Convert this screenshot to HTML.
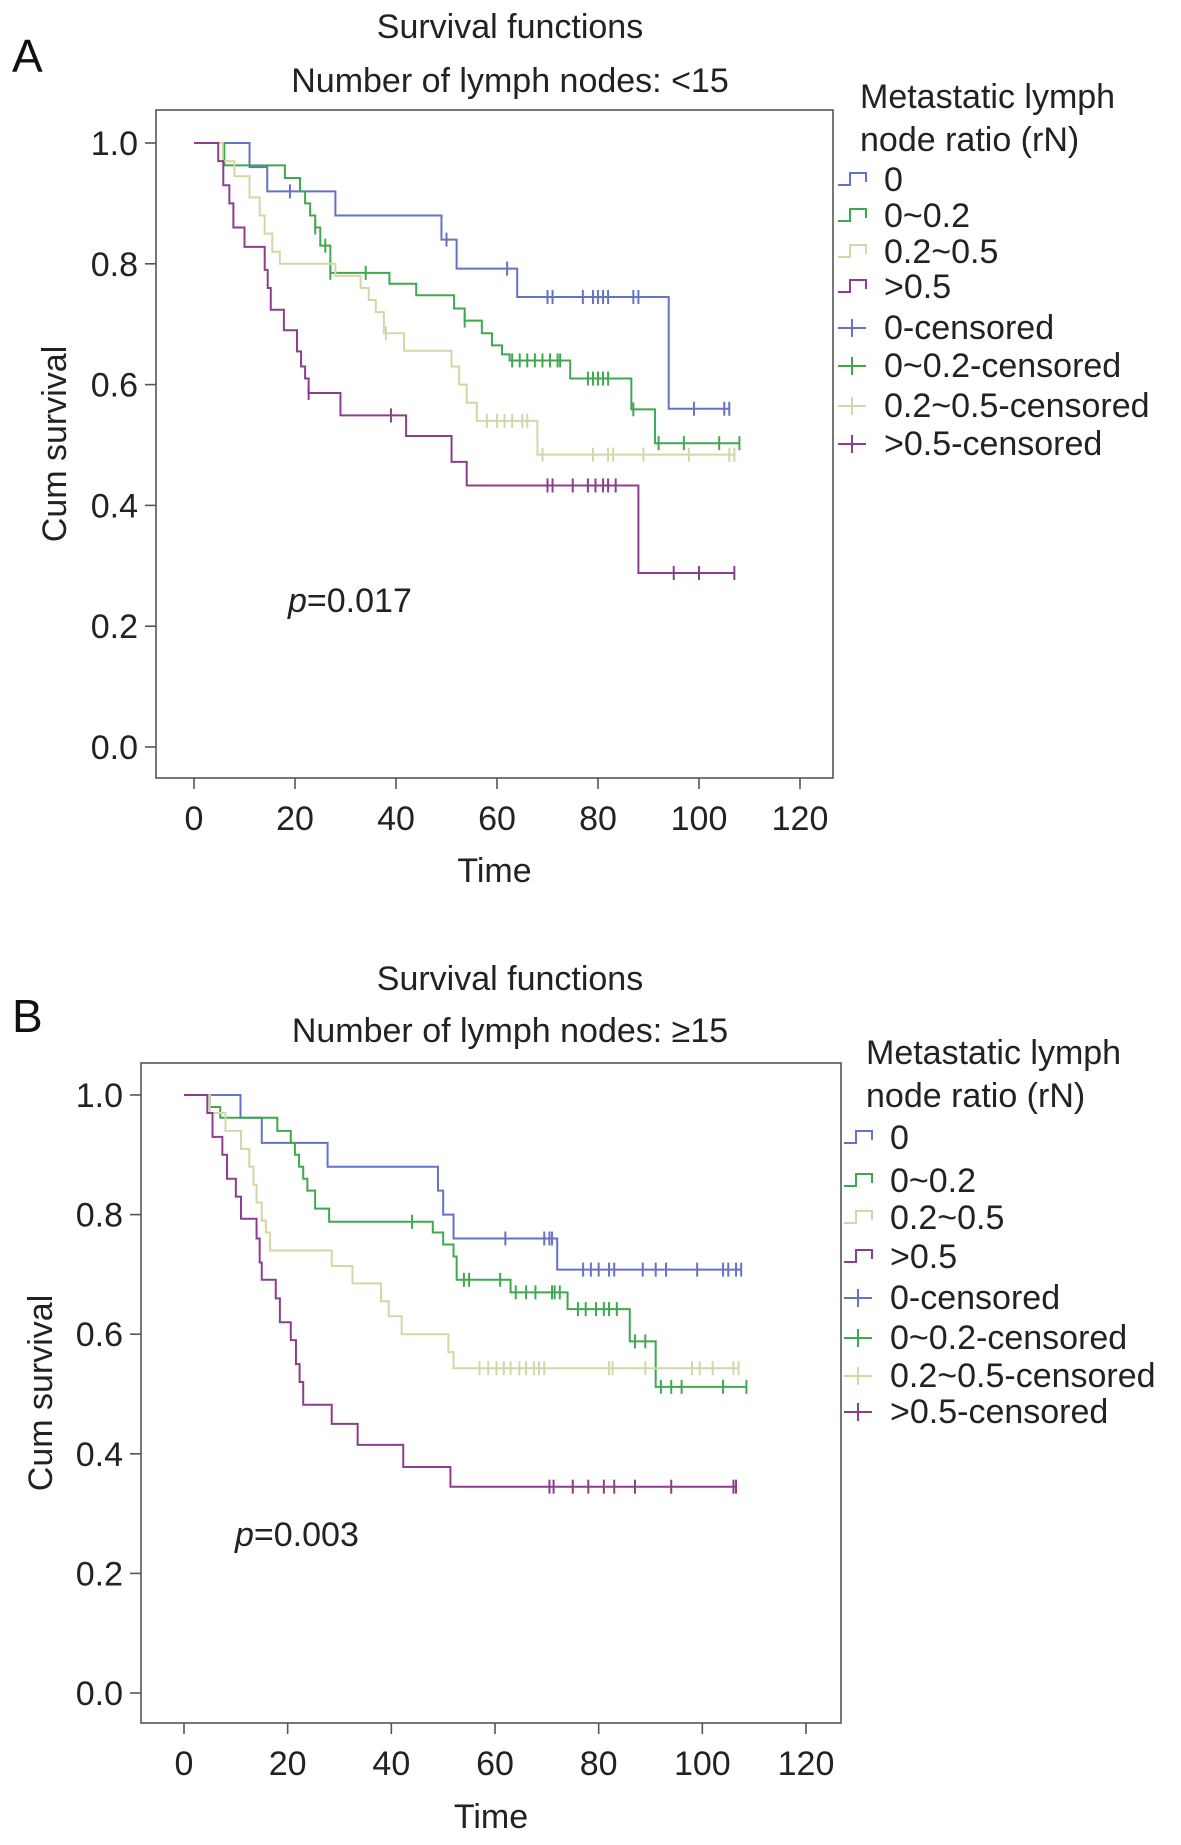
<!DOCTYPE html>
<html><head><meta charset="utf-8"><style>
html,body{margin:0;padding:0;background:#fff}
svg{display:block;font-family:"Liberation Sans",sans-serif}
</style></head><body>
<svg id="chart" width="1181" height="1845" viewBox="0 0 1181 1845" xmlns="http://www.w3.org/2000/svg"></svg>
<script>
// ---------- data ----------
const seriesNames = ["0","0~0.2","0.2~0.5",">0.5"];
const seriesColors = ["#6472c8","#3fa84e","#d4d6a6","#8c3d8e"];
const xTicks = [0,20,40,60,80,100,120];
const yTicks = [0,0.2,0.4,0.6,0.8,1.0];

// Panel A  (<15 lymph nodes)
const aBlueT = [11,14.5,28,49,52,64,94];
const aBlueS = [0.96,0.92,0.88,0.84,0.792,0.745,0.56];
const aBlueC = [19,50,62,70,71,77,79,80,81,82,87,88,99,105,106];
const aBlueEnd = 106;
const aGreenT = [6,18,21,22,23,24,25,27,38.7,44,51.5,53.6,57,59,61,62.5,74.5,86.6,91.3];
const aGreenS = [0.963,0.942,0.92,0.90,0.88,0.86,0.83,0.785,0.767,0.748,0.726,0.706,0.685,0.665,0.65,0.64,0.61,0.559,0.503];
const aGreenC = [24,26,27,34,53.6,63,64.5,66,67.5,69,70.5,72,72.5,78,79,80,81,82,87,92,97,104,108];
const aGreenEnd = 108;
const aBeigeT = [5.7,8,11,13,14,15.5,17,28,33,34.6,36,37.6,41.6,51,52.5,54,56,68];
const aBeigeS = [0.97,0.945,0.91,0.88,0.85,0.82,0.80,0.78,0.76,0.74,0.72,0.685,0.656,0.63,0.60,0.57,0.54,0.484];
const aBeigeC = [38,58,60,61.5,63,65,66,69,79,82,83,89,98,106,107];
const aBeigeEnd = 107;
const aPurpleT = [4.8,5.8,7,7.8,10,14,14.6,15.2,17.8,20.4,21.2,22,22.7,29,42,51,54,88];
const aPurpleS = [0.97,0.93,0.90,0.86,0.828,0.79,0.76,0.724,0.69,0.655,0.63,0.61,0.586,0.549,0.515,0.472,0.433,0.288];
const aPurpleC = [22.7,39,70,71,75,78,79.5,81,82,83.5,95,100,107];
const aPurpleEnd = 107;

// Panel B  (>=15 lymph nodes)
const bBlueT = [10.9,15,27.7,49,50,52,72];
const bBlueS = [0.962,0.92,0.88,0.84,0.80,0.76,0.708];
const bBlueC = [62,69.5,70.5,71,77,78.5,80,82,83,88.5,91,93,99,104,105,106.5,107.5];
const bBlueEnd = 107.5;
const bGreenT = [5,7,18,20.6,21.4,22.2,23,23.8,25.3,28,48,50,52,52.6,63,74,86,91];
const bGreenS = [0.98,0.962,0.94,0.92,0.90,0.88,0.86,0.84,0.81,0.788,0.77,0.75,0.73,0.691,0.67,0.642,0.588,0.512];
const bGreenC = [44,54,55,61,64,66,67.8,71,71.5,72.5,76,77.5,79.5,81,82,83.5,87,89,92,94,96,104,108.5];
const bGreenEnd = 108.5;
const bBeigeT = [5,8,11,12.6,13.4,14,15,15.8,16.6,28.5,32.5,38,39.5,42,51,52];
const bBeigeS = [0.97,0.94,0.91,0.88,0.85,0.82,0.79,0.77,0.74,0.714,0.685,0.655,0.63,0.60,0.57,0.543];
const bBeigeC = [57,58.7,60.3,61.7,63,64.7,66,67.5,68.5,69.5,82,82.7,89,98,99.5,102,106,107];
const bBeigeEnd = 107;
const bPurpleT = [4.5,5.5,7.4,8.3,10,11,14,14.6,15,17.7,18.5,20.6,21.6,22.3,23,28.5,33.5,42.3,51.4];
const bPurpleS = [0.97,0.93,0.90,0.86,0.83,0.793,0.76,0.72,0.691,0.66,0.62,0.59,0.55,0.52,0.482,0.45,0.415,0.378,0.345];
const bPurpleC = [70.5,71.3,75,78,81,83,87,94,106,106.5];
const bPurpleEnd = 106.5;

const FS = 34;
const NS = "http://www.w3.org/2000/svg";
const svg = document.getElementById("chart");
function mk(tag, attrs, parent, text){
  const e = document.createElementNS(NS, tag);
  for (const k in attrs) e.setAttribute(k, attrs[k]);
  if (text !== undefined) e.textContent = text;
  (parent || svg).appendChild(e);
  return e;
}
function survAt(T,S,t){ let s=1; for(let i=0;i<T.length;i++){ if(T[i]<=t) s=S[i]; } return s; }

function drawPanel(P, data){
  const g = mk("g", {}, svg);
  
  
  const xs = t => P.x0 + (t/120)*(P.x120 - P.x0);
  const ys = v => P.y0 + v*(P.y1 - P.y0);

  const lab = mk("text", {x:12, y:P.letterY, "font-size":46, fill:"#111"}, g, P.id.toUpperCase());
  
  
  const t1 = mk("text", {x:P.titleX, y:P.titleY, "font-size":FS, fill:"#222","text-anchor":"middle"}, g, "Survival functions");
  
  
  const t2 = mk("text", {x:P.titleX, y:P.subY, "font-size":FS, fill:"#222","text-anchor":"middle"}, g, P.subtitle);
  
  

  const fr = mk("rect", {x:P.L, y:P.T, width:P.R-P.L, height:P.B-P.T, fill:"none", stroke:"#555", "stroke-width":1.6}, g);
  
  

  yTicks.forEach(v=>{
    const y = ys(v);
    const tk = mk("line", {x1:P.L-11, x2:P.L, y1:y, y2:y, stroke:"#555","stroke-width":1.6}, g);
    
    
    const tl = mk("text", {x:P.L-18, y:y+12, "font-size":FS, fill:"#222","text-anchor":"end"}, g, v.toFixed(1));
    
    
  });
  xTicks.forEach(v=>{
    const x = xs(v);
    const tk = mk("line", {x1:x, x2:x, y1:P.B, y2:P.B+11, stroke:"#555","stroke-width":1.6}, g);
    
    
    const tl = mk("text", {x:x, y:P.B+52, "font-size":FS, fill:"#222","text-anchor":"middle"}, g, String(v));
    
    
  });
  const xt = mk("text", {x:(P.L+P.R)/2, y:P.timeY, "font-size":FS, fill:"#222","text-anchor":"middle"}, g, "Time");
  
  
  const yt = mk("text", {x:0, y:0, "font-size":FS, fill:"#222","text-anchor":"middle", transform:`translate(${P.yTitleX},${(P.T+P.B)/2}) rotate(-90)`}, g, "Cum survival");
  
  
  const pv = mk("text", {x:P.pX, y:P.pY, "font-size":FS, fill:"#222"}, g);
  
  
  mk("tspan", {"font-style":"italic"}, pv, "p");
  mk("tspan", {}, pv, "=" + P.p);

  data.forEach((d,i)=>{
    let path = `M${xs(0)},${ys(1)}`;
    d.T.forEach((t,j)=>{ path += ` H${xs(t)} V${ys(d.S[j])}`; });
    path += ` H${xs(d.end)}`;
    const ln = mk("path", {d:path, fill:"none", stroke:seriesColors[i], "stroke-width":2}, g);
    
    
    d.C.forEach(c=>{
      const x = xs(c), y = ys(survAt(d.T,d.S,c));
      const cm = mk("line", {x1:x, x2:x, y1:y-7, y2:y+7, stroke:seriesColors[i], "stroke-width":2}, g);
      
      
    });
  });

  const lg = mk("g", {}, g);
  
  
  const lt1 = mk("text", {x:P.legX+22, y:P.legTitleY, "font-size":FS, fill:"#222"}, lg, "Metastatic lymph");
  
  
  const lt2 = mk("text", {x:P.legX+22, y:P.legTitleY+43, "font-size":FS, fill:"#222"}, lg, "node ratio (rN)");
  
  
  const labels = seriesNames.concat(seriesNames.map(n=>n+"-censored"));
  labels.forEach((lbl,k)=>{
    const y = P.legY[k];
    const c = seriesColors[k%4];
    const x = P.legX;
    if (k < 4) {
      const sym = mk("path", {d:`M${x},${y-6} H${x+12} V${y-18} H${x+28} V${y-9}`, fill:"none", stroke:c, "stroke-width":2}, lg);
      
      
    } else {
      const sym = mk("path", {d:`M${x},${y-11} H${x+28} M${x+14},${y-20} V${y-2}`, fill:"none", stroke:c, "stroke-width":2}, lg);
      
      
    }
    const tx = mk("text", {x:x+46, y:y, "font-size":FS, fill:"#222"}, lg, lbl);
    
    
  });
}

drawPanel({id:"a", subtitle:"Number of lymph nodes: <15", p:"0.017",
  L:156,R:833,T:110,B:778, x0:194,x120:800, y0:747,y1:143,
  letterY:72, titleX:510, titleY:38, subY:92, timeY:882, yTitleX:66,
  pX:288, pY:612, legX:838, legTitleY:108, legY:[191,227,263,298,339,377,417,455]},
  [{T:aBlueT,S:aBlueS,C:aBlueC,end:aBlueEnd},{T:aGreenT,S:aGreenS,C:aGreenC,end:aGreenEnd},
   {T:aBeigeT,S:aBeigeS,C:aBeigeC,end:aBeigeEnd},{T:aPurpleT,S:aPurpleS,C:aPurpleC,end:aPurpleEnd}]);

drawPanel({id:"b", subtitle:"Number of lymph nodes: \u226515", p:"0.003",
  L:141,R:841,T:1063,B:1723, x0:184,x120:806, y0:1693,y1:1095,
  letterY:1032, titleX:510, titleY:990, subY:1042, timeY:1828, yTitleX:52,
  pX:235, pY:1546, legX:844, legTitleY:1064, legY:[1149,1192,1229,1268,1309,1349,1387,1423]},
  [{T:bBlueT,S:bBlueS,C:bBlueC,end:bBlueEnd},{T:bGreenT,S:bGreenS,C:bGreenC,end:bGreenEnd},
   {T:bBeigeT,S:bBeigeS,C:bBeigeC,end:bBeigeEnd},{T:bPurpleT,S:bPurpleS,C:bPurpleC,end:bPurpleEnd}]);
</script>
</body></html>
